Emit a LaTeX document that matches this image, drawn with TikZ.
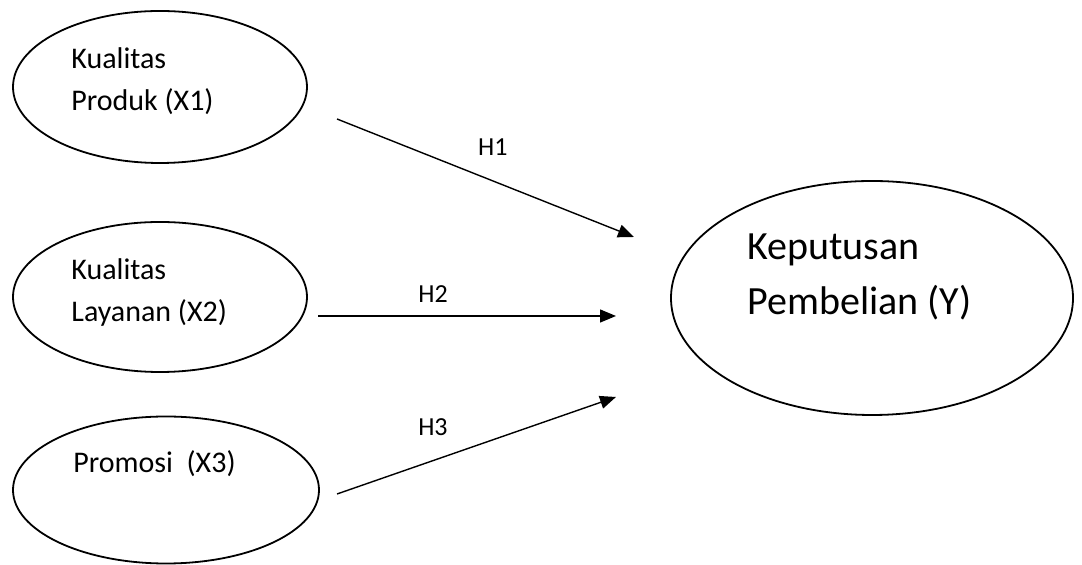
\documentclass[tikz,border=0pt]{standalone}
\usepackage{fontspec}
\setmainfont{Carlito}
\usepackage{tikz}
\usetikzlibrary{arrows.meta,positioning,shapes.geometric}
\tikzset{
  >={Triangle[length=8pt,width=6.5pt]},
  construct/.style={ellipse,draw,line width=0.9pt,inner sep=0pt},
  vartext/.style={anchor=base west,align=left,inner sep=0pt,font=\fontsize{15}{21}\selectfont},
  bigtext/.style={vartext,font=\fontsize{20}{27.5}\selectfont},
  relarrow/.style={->,line width=0.7pt},
  hyp/.style={font=\fontsize{13}{15}\selectfont,inner sep=0pt}
}

\begin{document}
\begin{tikzpicture}[x=0.5pt,y=-0.5pt]
  \useasboundingbox (0,0) rectangle (1082,565);

  % constructs
  \node[construct,minimum width=147pt,minimum height=76pt] (x1) at (160,87) {};
  \node[construct,minimum width=147pt,minimum height=75pt] (x2) at (160,297) {};
  \node[construct,minimum width=153pt,minimum height=73.5pt] (x3) at (166,490) {};
  \node[construct,minimum width=201pt,minimum height=117pt] (y) at (872,298) {};

  % texts (base = last line)
  \node[vartext] (x1text) at (71,111) {Kualitas\\Produk (X1)};
  \node[vartext] (x2text) at (71,322) {Kualitas\\Layanan (X2)};
  \node[vartext] (x3text) at (73,473) {Promosi\ \ (X3)};
  \node[bigtext] (ytext) at (747,315) {Keputusan\\Pembelian (Y)};

  % arrow ends
  \coordinate (h1s) at (337,119);
  \coordinate (h1e) at (634,237);
  \coordinate (h2s) at (318,316);
  \coordinate (h2e) at (616,316);
  \coordinate (h3s) at (337,494);
  \coordinate (h3e) at (616,397);

  \draw[relarrow] (h1s) -- node[hyp,pos=0.525,yshift=17pt] (h1) {H1} (h1e);
  \draw[relarrow] (h2s) -- node[hyp,pos=0.386,yshift=11pt] (h2) {H2} (h2e);
  \draw[relarrow] (h3s) -- node[hyp,pos=0.344,yshift=16.5pt] (h3) {H3} (h3e);
\end{tikzpicture}
\end{document}
